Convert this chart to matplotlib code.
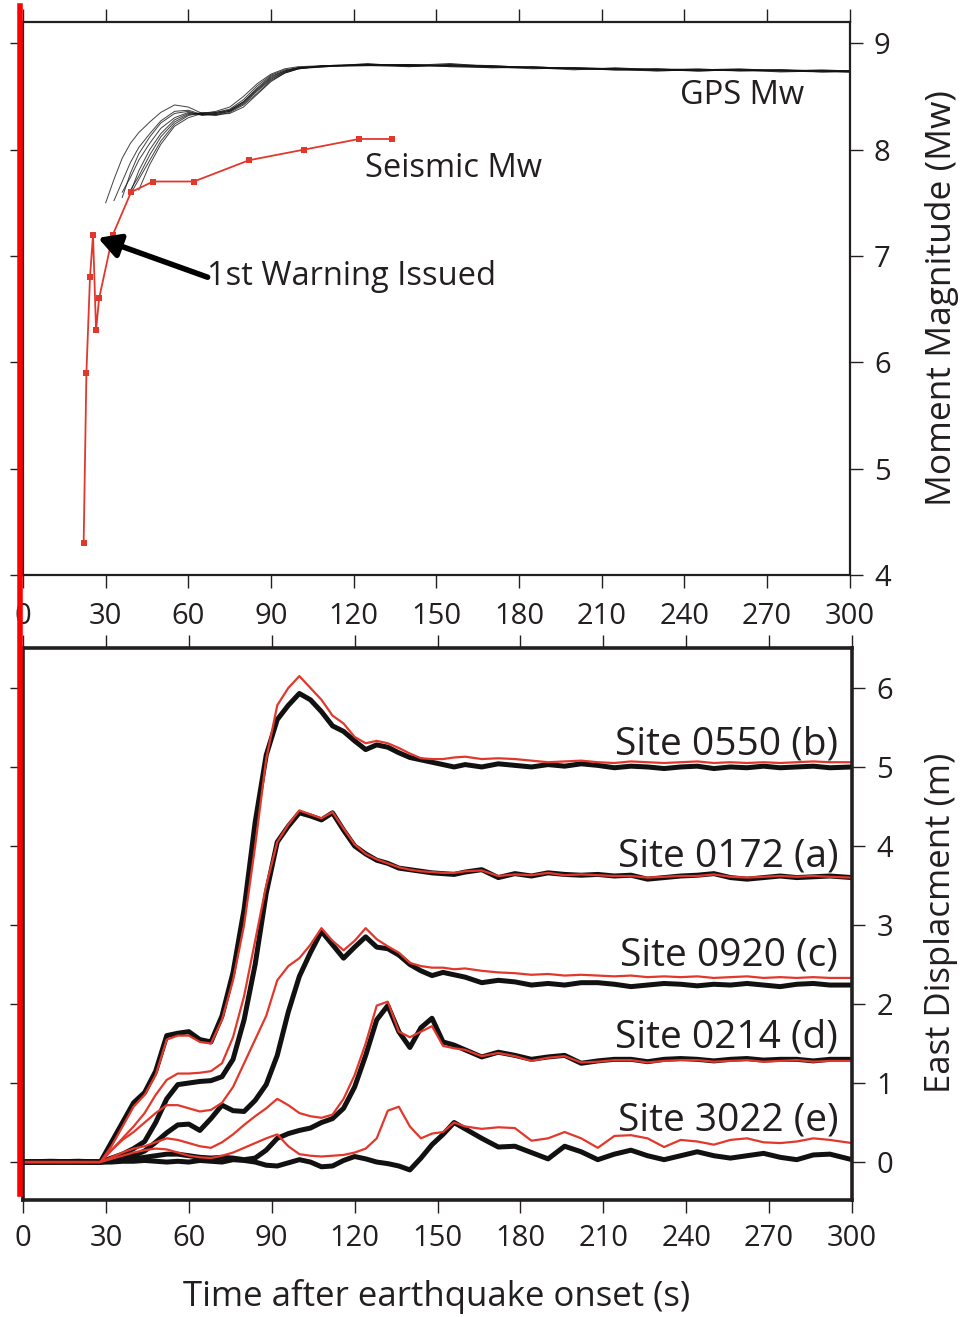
import numpy as np
import matplotlib
matplotlib.use("Agg")
import matplotlib.pyplot as plt
from matplotlib.lines import Line2D

plt.rcParams['font.family'] = ['Open Sans', 'DejaVu Sans']
INK = '#231f20'
RED = '#e2382c'

# ---- top panel: magnitude estimates ----
seis_t = [22, 23, 24.3, 25.4, 26.5, 27.6, 32.6, 39.2, 47.2, 62, 82, 102, 122, 134]
seis_mw = [4.3, 5.9, 6.8, 7.2, 6.3, 6.6, 7.2, 7.6, 7.7, 7.7, 7.9, 8.0, 8.1, 8.1]

gps_t = [30, 33, 36, 39, 42, 46, 50, 55, 60, 65, 70, 75, 80, 85, 90, 95, 100,
         110, 125, 140, 155, 170, 185, 200, 215, 230, 245, 260, 275, 290, 300]
nan = np.nan
gps_mw = [
    [7.50, 7.72, 7.92, 8.06, 8.16, 8.26, 8.35, 8.42, 8.40, 8.34, 8.36, 8.40, 8.50, 8.62, 8.71, 8.76,
     8.78, 8.79, 8.80, 8.79, 8.80, 8.78, 8.77, 8.76, 8.76, 8.75, 8.75, 8.75, 8.74, 8.74, 8.74],
    [nan, 7.52, 7.70, 7.88, 8.02, 8.15, 8.27, 8.36, 8.37, 8.33, 8.35, 8.38, 8.47, 8.60, 8.70, 8.75,
     8.77, 8.79, 8.79, 8.80, 8.79, 8.79, 8.77, 8.77, 8.76, 8.76, 8.74, 8.75, 8.75, 8.74, 8.73],
    [nan, nan, 7.55, 7.78, 7.96, 8.12, 8.25, 8.34, 8.36, 8.32, 8.34, 8.37, 8.45, 8.57, 8.68, 8.74,
     8.77, 8.78, 8.80, 8.79, 8.81, 8.78, 8.78, 8.76, 8.75, 8.76, 8.75, 8.74, 8.74, 8.75, 8.74],
    [nan, nan, 7.60, 7.74, 7.90, 8.06, 8.20, 8.30, 8.35, 8.33, 8.33, 8.36, 8.43, 8.55, 8.66, 8.73,
     8.76, 8.79, 8.79, 8.78, 8.80, 8.79, 8.77, 8.77, 8.76, 8.74, 8.75, 8.75, 8.73, 8.74, 8.74],
    [nan, nan, nan, 7.60, 7.80, 8.00, 8.15, 8.28, 8.34, 8.33, 8.32, 8.35, 8.42, 8.53, 8.65, 8.72,
     8.76, 8.78, 8.79, 8.80, 8.78, 8.78, 8.77, 8.75, 8.77, 8.75, 8.74, 8.75, 8.74, 8.73, 8.74],
    [nan, nan, nan, 7.62, 7.75, 7.95, 8.12, 8.26, 8.33, 8.34, 8.33, 8.34, 8.40, 8.52, 8.64, 8.72,
     8.76, 8.79, 8.80, 8.79, 8.79, 8.77, 8.78, 8.76, 8.75, 8.75, 8.76, 8.74, 8.75, 8.74, 8.73],
    [nan, nan, nan, 7.58, 7.72, 7.90, 8.08, 8.24, 8.32, 8.35, 8.34, 8.36, 8.44, 8.56, 8.67, 8.73,
     8.77, 8.78, 8.81, 8.78, 8.79, 8.78, 8.76, 8.77, 8.75, 8.74, 8.75, 8.76, 8.74, 8.74, 8.74],
    [nan, nan, nan, nan, 7.62, 7.86, 8.05, 8.22, 8.30, 8.34, 8.35, 8.37, 8.45, 8.58, 8.69, 8.74,
     8.77, 8.79, 8.80, 8.80, 8.78, 8.77, 8.77, 8.76, 8.76, 8.75, 8.74, 8.75, 8.75, 8.73, 8.73],
]

warn_tip = (27.2, 7.17)
warn_tail = (67.0, 6.80)

# ---- bottom panel: east displacement per site ----
disp_t = [0, 10, 20, 28, 32, 36, 40, 44, 48, 52, 56, 60,
          64, 68, 72, 76, 80, 84, 88, 92, 96, 100, 104, 108,
          112, 116, 120, 124, 128, 132, 136, 140, 144, 148, 152, 156,
          160, 166, 172, 178, 184, 190, 196, 202, 208, 214, 220, 226,
          232, 238, 244, 250, 256, 262, 268, 274, 280, 286, 292, 300]

site_names = ['Site 0550 (b)', 'Site 0172 (a)', 'Site 0920 (c)', 'Site 0214 (d)', 'Site 3022 (e)']
site_label_y = [5.29, 3.87, 2.61, 1.58, 0.53]

obs_b = [0.00, 0.01, 0.00, 0.00, 0.25, 0.50, 0.75, 0.88, 1.15, 1.60, 1.63, 1.65,
         1.55, 1.52, 1.85, 2.40, 3.20, 4.30, 5.15, 5.60, 5.78, 5.93, 5.85, 5.70,
         5.52, 5.45, 5.33, 5.22, 5.28, 5.25, 5.18, 5.12, 5.09, 5.06, 5.03, 5.00,
         5.03, 5.00, 5.04, 5.02, 5.00, 5.03, 5.01, 5.04, 5.02, 4.99, 5.01, 5.00,
         4.98, 5.00, 5.01, 4.98, 5.00, 4.99, 5.01, 4.99, 5.00, 5.01, 4.99, 5.00]
mod_b = [0.00, 0.00, 0.00, 0.00, 0.20, 0.45, 0.70, 0.85, 1.10, 1.55, 1.60, 1.60,
         1.52, 1.50, 1.80, 2.30, 3.00, 4.00, 5.10, 5.78, 6.00, 6.15, 6.00, 5.85,
         5.65, 5.55, 5.38, 5.30, 5.33, 5.30, 5.24, 5.17, 5.11, 5.10, 5.10, 5.12,
         5.13, 5.10, 5.11, 5.10, 5.08, 5.06, 5.07, 5.08, 5.06, 5.05, 5.07, 5.06,
         5.05, 5.06, 5.07, 5.05, 5.06, 5.05, 5.06, 5.05, 5.06, 5.07, 5.06, 5.06]

obs_a = [0.00, 0.00, 0.01, 0.00, 0.05, 0.10, 0.17, 0.26, 0.50, 0.80, 0.98, 1.00,
         1.02, 1.03, 1.08, 1.30, 1.80, 2.50, 3.40, 4.05, 4.25, 4.42, 4.38, 4.33,
         4.42, 4.20, 4.00, 3.90, 3.82, 3.78, 3.72, 3.70, 3.68, 3.66, 3.65, 3.64,
         3.67, 3.70, 3.60, 3.65, 3.62, 3.66, 3.64, 3.63, 3.64, 3.62, 3.63, 3.58,
         3.60, 3.62, 3.63, 3.65, 3.60, 3.58, 3.60, 3.62, 3.60, 3.61, 3.62, 3.60]
mod_a = [0.00, 0.00, 0.00, 0.00, 0.15, 0.30, 0.45, 0.62, 0.85, 1.04, 1.12, 1.12,
         1.13, 1.15, 1.25, 1.58, 2.10, 2.80, 3.50, 4.05, 4.27, 4.45, 4.40, 4.35,
         4.43, 4.22, 4.02, 3.90, 3.83, 3.78, 3.73, 3.70, 3.68, 3.67, 3.66, 3.66,
         3.68, 3.69, 3.62, 3.64, 3.63, 3.66, 3.63, 3.64, 3.63, 3.62, 3.62, 3.60,
         3.61, 3.62, 3.62, 3.64, 3.61, 3.60, 3.61, 3.62, 3.61, 3.62, 3.61, 3.60]

obs_c = [0.00, 0.00, 0.00, 0.00, 0.02, 0.05, 0.08, 0.14, 0.25, 0.37, 0.47, 0.48,
         0.40, 0.55, 0.72, 0.65, 0.64, 0.78, 0.98, 1.35, 1.90, 2.35, 2.65, 2.92,
         2.75, 2.58, 2.72, 2.85, 2.72, 2.70, 2.62, 2.50, 2.42, 2.36, 2.40, 2.37,
         2.34, 2.27, 2.30, 2.28, 2.24, 2.26, 2.24, 2.27, 2.27, 2.25, 2.22, 2.24,
         2.26, 2.25, 2.23, 2.25, 2.24, 2.26, 2.24, 2.22, 2.25, 2.26, 2.24, 2.24]
mod_c = [0.00, 0.00, 0.00, 0.00, 0.15, 0.28, 0.38, 0.50, 0.62, 0.72, 0.72, 0.68,
         0.64, 0.66, 0.75, 0.95, 1.25, 1.55, 1.85, 2.30, 2.48, 2.58, 2.75, 2.96,
         2.80, 2.68, 2.80, 2.96, 2.82, 2.73, 2.65, 2.52, 2.48, 2.46, 2.46, 2.44,
         2.45, 2.42, 2.40, 2.39, 2.37, 2.38, 2.36, 2.37, 2.36, 2.35, 2.36, 2.34,
         2.35, 2.34, 2.35, 2.33, 2.34, 2.35, 2.33, 2.34, 2.33, 2.34, 2.33, 2.33]

obs_d = [0.00, 0.00, 0.00, 0.00, 0.01, 0.02, 0.04, 0.06, 0.08, 0.10, 0.10, 0.08,
         0.06, 0.05, 0.06, 0.05, 0.03, 0.05, 0.15, 0.30, 0.36, 0.40, 0.43, 0.50,
         0.55, 0.68, 0.95, 1.35, 1.80, 1.98, 1.65, 1.45, 1.70, 1.82, 1.52, 1.48,
         1.42, 1.33, 1.39, 1.35, 1.30, 1.33, 1.35, 1.25, 1.28, 1.30, 1.30, 1.27,
         1.30, 1.31, 1.30, 1.28, 1.30, 1.31, 1.29, 1.30, 1.30, 1.28, 1.30, 1.30]
mod_d = [0.00, 0.00, 0.00, 0.00, 0.06, 0.12, 0.17, 0.20, 0.25, 0.30, 0.28, 0.24,
         0.20, 0.18, 0.25, 0.35, 0.47, 0.58, 0.68, 0.80, 0.72, 0.62, 0.58, 0.56,
         0.60, 0.80, 1.10, 1.50, 1.98, 2.03, 1.65, 1.58, 1.65, 1.72, 1.47, 1.44,
         1.42, 1.34, 1.38, 1.34, 1.28, 1.32, 1.34, 1.26, 1.27, 1.29, 1.29, 1.26,
         1.28, 1.29, 1.29, 1.27, 1.28, 1.29, 1.27, 1.28, 1.29, 1.27, 1.28, 1.28]

obs_e = [0.00, 0.00, 0.00, 0.00, 0.00, 0.01, 0.01, 0.02, 0.01, 0.00, 0.01, 0.00,
         0.02, 0.01, 0.00, 0.03, 0.02, 0.00, -0.04, -0.05, -0.01, 0.03, 0.00, -0.06,
         -0.05, 0.02, 0.07, 0.04, 0.00, -0.02, -0.05, -0.10, 0.05, 0.22, 0.35, 0.50,
         0.42, 0.30, 0.19, 0.20, 0.12, 0.04, 0.20, 0.13, 0.03, 0.10, 0.15, 0.08,
         0.03, 0.08, 0.13, 0.08, 0.05, 0.08, 0.11, 0.06, 0.03, 0.09, 0.10, 0.03]
mod_e = [0.00, 0.00, 0.00, 0.00, 0.04, 0.08, 0.12, 0.15, 0.17, 0.16, 0.12, 0.08,
         0.06, 0.05, 0.08, 0.12, 0.18, 0.24, 0.30, 0.35, 0.20, 0.10, 0.08, 0.07,
         0.08, 0.09, 0.12, 0.17, 0.30, 0.65, 0.70, 0.45, 0.30, 0.36, 0.38, 0.50,
         0.45, 0.42, 0.44, 0.43, 0.27, 0.30, 0.38, 0.30, 0.18, 0.33, 0.34, 0.30,
         0.19, 0.28, 0.26, 0.22, 0.28, 0.30, 0.25, 0.24, 0.26, 0.30, 0.28, 0.24]

observed = [obs_b, obs_a, obs_c, obs_d, obs_e]
modelled = [mod_b, mod_a, mod_c, mod_d, mod_e]

xticks = [0, 30, 60, 90, 120, 150, 180, 210, 240, 270, 300]


def style_axes(ax, spine_w, xpad):
    for s in ax.spines.values():
        s.set_linewidth(spine_w)
        s.set_color(INK)
    ax.set_xlim(0, 300)
    ax.set_xticks(xticks)
    ax.tick_params(axis='both', direction='out', length=9.5, width=1.0,
                   colors=INK, labelsize=21)
    ax.tick_params(axis='x', top=True, bottom=True, labeltop=False,
                   labelbottom=True, pad=xpad)
    ax.tick_params(axis='y', left=True, right=True, labelleft=False,
                   labelright=True, pad=8)


fig = plt.figure(figsize=(9.6, 13.17), dpi=100)

# magnitude panel
ax1 = fig.add_axes([0.024, 0.5634, 0.861, 0.4199])
style_axes(ax1, 1.6, 10)
ax1.set_ylim(4, 9.2)
ax1.set_yticks([4, 5, 6, 7, 8, 9])

for mw in gps_mw:
    ax1.plot(gps_t, mw, color='#111111', lw=0.7, alpha=0.8)
ax1.plot(seis_t, seis_mw, color=RED, lw=1.3, marker='s', markersize=5,
         markeredgewidth=0)

ax1.annotate('', xy=warn_tip, xytext=warn_tail,
             arrowprops=dict(arrowstyle='-|>,head_length=0.65,head_width=0.36',
                             mutation_scale=20, lw=4, color='black',
                             shrinkA=0, shrinkB=0))
ax1.text(66.7, 6.81, '1st Warning Issued', fontsize=23.5, color=INK,
         ha='left', va='center')
ax1.text(156.3, 7.82, 'Seismic Mw', fontsize=23.5, color=INK, ha='center', va='center')
ax1.text(260.8, 8.51, 'GPS Mw', fontsize=23.5, color=INK, ha='center', va='center')

# displacement panel
ax2 = fig.add_axes([0.024, 0.0888, 0.8635, 0.4192])
style_axes(ax2, 2.6, 8)
ax2.set_ylim(-0.481, 6.506)
ax2.set_yticks([0, 1, 2, 3, 4, 5, 6])

for obs in observed:
    ax2.plot(disp_t, obs, color='#111111', lw=3.6, solid_joinstyle='round')
for mod in modelled:
    ax2.plot(disp_t, mod, color=RED, lw=1.6)
for name, y in zip(site_names, site_label_y):
    ax2.text(295, y, name, fontsize=28, color=INK, ha='right', va='center')

fig.text(0.4552, 1 - 1297 / 1317, 'Time after earthquake onset (s)',
         fontsize=25, color=INK, ha='center', va='center')
fig.text(942 / 960, 1 - 298 / 1317, 'Moment Magnitude (Mw)', fontsize=25.5,
         color=INK, rotation=90, ha='center', va='center')
fig.text(941 / 960, 1 - 923 / 1317, 'East Displacment (m)', fontsize=25,
         color=INK, rotation=90, ha='center', va='center')

# red margin rule over both panels
fig.add_artist(Line2D([20 / 960, 20 / 960], [1 - 6 / 1317, 1 - 1194 / 1317],
                      color='#ff0000', lw=4, zorder=10))

fig.savefig('out.png', dpi=100)
